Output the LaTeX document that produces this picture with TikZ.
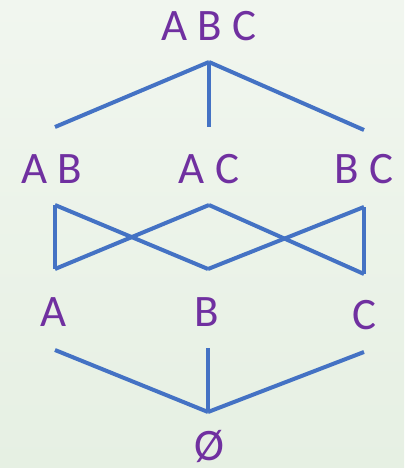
\documentclass[tikz,border=0pt]{standalone}
\usepackage{fontspec}
\setmainfont{Carlito}
\definecolor{lblpurple}{RGB}{112,48,160}
\definecolor{edgeblue}{RGB}{68,114,196}
\definecolor{bgtop}{RGB}{241,246,239}
\definecolor{bgbot}{RGB}{230,240,227}
\begin{document}
\begin{tikzpicture}[x=1pt,y=-1pt,
  lbl/.style={text=lblpurple, font=\fontsize{45}{50}\selectfont, inner sep=0pt, anchor=base},
  edge/.style={draw=edgeblue, line width=4pt}]
\shade[top color=bgtop, bottom color=bgbot] (0,0) rectangle (404,468);
\useasboundingbox (0,0) rectangle (404,468);
% labels
\node[lbl] (abc) at (209,41) {A B C};
\node[lbl] (ab) at (52,183) {A B};
\node[lbl] (ac) at (209,183) {A C};
\node[lbl] (bc) at (364,183) {B C};
\node[lbl] (a) at (54,326) {A};
\node[lbl] (b) at (207,326) {B};
\node[lbl] (c) at (364,329) {C};
\node[lbl] (e) at (209,460) {Ø};
% connector end points
\coordinate (abcD) at (209,62);
\coordinate (abU) at (55,127);
\coordinate (acU) at (209,127);
\coordinate (bcU) at (364,130);
\coordinate (abD) at (55,205);
\coordinate (acD) at (209,205);
\coordinate (bcD) at (364,207);
\coordinate (aU) at (55,269);
\coordinate (bU) at (208,269);
\coordinate (cU) at (364,274);
\coordinate (aD) at (55,350);
\coordinate (bD) at (208,348);
\coordinate (cD) at (364,352);
\coordinate (eU) at (208,412);
% edges
\draw[edge] (abcD) -- (abU);
\draw[edge] (abcD) -- (acU);
\draw[edge] (abcD) -- (bcU);
\draw[edge] (abD) -- (aU);
\draw[edge] (abD) -- (bU);
\draw[edge] (acD) -- (aU);
\draw[edge] (acD) -- (cU);
\draw[edge] (bcD) -- (bU);
\draw[edge] (bcD) -- (cU);
\draw[edge] (aD) -- (eU);
\draw[edge] (bD) -- (eU);
\draw[edge] (cD) -- (eU);
\end{tikzpicture}
\end{document}
